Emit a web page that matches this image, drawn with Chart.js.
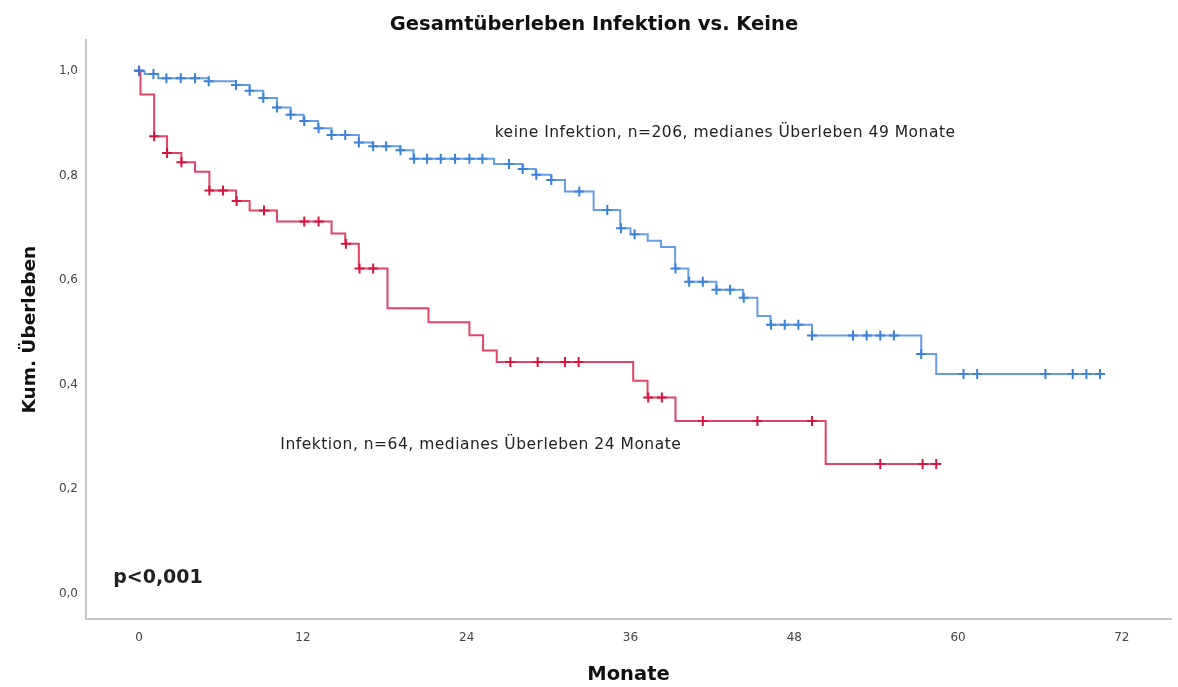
<!DOCTYPE html>
<html>
<head>
<meta charset="utf-8">
<script src="https://cdn.jsdelivr.net/npm/chart.js@4/dist/chart.umd.min.js"></script>
<style>
  body { margin: 0; background: #fff; }
  canvas { display: block; }
</style>
</head>
<body>
<canvas id="km-chart" width="1178" height="687"></canvas>
<script>
// Kaplan-Meier steps: time of event (months) -> survival after it
const noneTimes = [0, 0.4, 1.4, 5.1, 7.1, 8.1, 9.1, 10.1, 11.1, 12.05, 13.1, 14.1, 16.1, 17.1, 19.1, 20.1,
  26.0, 28.1, 29.06, 30.2, 31.2, 33.3, 35.25, 36.0, 37.26, 38.24, 39.27, 40.24, 42.3, 44.25, 45.3,
  46.26, 49.3, 57.3, 58.4, 70.75];
const noneSurv = [1.0, 0.994, 0.986, 0.980, 0.973, 0.962, 0.948, 0.930, 0.916, 0.904, 0.890, 0.8775, 0.863, 0.856, 0.848, 0.832,
  0.822, 0.812, 0.801, 0.791, 0.769, 0.734, 0.699, 0.6875, 0.675, 0.663, 0.622, 0.5965, 0.581, 0.566, 0.531,
  0.514, 0.4935, 0.4584, 0.42, 0.42];
const noneCensored = [0, 1.05, 2.0, 3.05, 4.1, 5.1, 7.1, 8.1, 9.1, 10.1, 11.1, 12.1, 13.15, 14.1, 15.1, 16.1, 17.15,
  18.1, 19.15, 20.15, 21.1, 22.1, 23.15, 24.2, 25.15, 27.1, 28.1, 29.1, 30.2, 32.25, 34.3, 35.3, 36.3, 39.3,
  40.3, 41.3, 42.3, 43.3, 44.3, 46.3, 47.3, 48.3, 49.3, 52.3, 53.3, 54.3, 55.3, 57.3, 60.4, 61.4, 66.4, 68.4,
  69.4, 70.4];

const infTimes = [0, 0.1, 1.1, 2.05, 3.1, 4.1, 5.15, 7.1, 8.1, 10.1, 14.1, 15.1, 16.1, 18.2, 21.2, 24.2, 25.2,
  26.2, 36.2, 37.25, 39.3, 50.3, 58.7];
const infSurv = [1.0, 0.955, 0.875, 0.843, 0.825, 0.807, 0.771, 0.751, 0.733, 0.712, 0.689, 0.669, 0.622, 0.546,
  0.519, 0.494, 0.465, 0.443, 0.407, 0.375, 0.33, 0.248, 0.248];
const infCensored = [0, 1.1, 2.05, 3.1, 5.15, 6.15, 7.15, 9.15, 12.1, 13.15, 15.15, 16.15, 17.15, 27.2, 29.2,
  31.2, 32.2, 37.3, 38.3, 41.3, 45.3, 49.3, 54.3, 57.4, 58.4];

const xTicks = [0, 12, 24, 36, 48, 60, 72];
const yTicks = [0, 0.2, 0.4, 0.6, 0.8, 1.0];

const labels = [
  { text: 'keine Infektion, n=206, medianes Überleben 49 Monate', x: 26.05, y: 0.881, bold: false },
  { text: 'Infektion, n=64, medianes Überleben 24 Monate', x: 10.35, y: 0.284, bold: false },
  { text: 'p<0,001', x: -1.9, y: 0.03, bold: true },
];

const BLUE_LINE = 'rgba(62,134,222,0.8)';
const BLUE_MARK = '#3a7fd6';
const RED_LINE = 'rgba(214,22,66,0.8)';
const RED_MARK = '#d4143f';

const toPoints = (times, surv) => times.map((t, i) => ({ x: t, y: surv[i] }));

// censored cases sit on the curve at their time
const survAt = (times, surv, t) => {
  let s = surv[0];
  times.forEach((tt, i) => { if (tt <= t) s = surv[i]; });
  return s;
};
const censorPoints = (cens, times, surv) => cens.map(t => ({ x: t, y: survAt(times, surv, t) }));

const textPlugin = {
  id: 'kmText',
  afterDatasetsDraw(chart) {
    const { ctx, scales } = chart;
    ctx.save();
    ctx.fillStyle = '#222';
    ctx.textBaseline = 'middle';
    labels.forEach(l => {
      ctx.font = l.bold ? 'bold 19px "DejaVu Sans"' : '15.5px "DejaVu Sans"';
      ctx.letterSpacing = l.bold ? '0px' : '0.5px';
      ctx.fillText(l.text, scales.x.getPixelForValue(l.x), scales.y.getPixelForValue(l.y));
    });
    ctx.restore();
  }
};

const noPad = axis => { axis.paddingLeft = 0; axis.paddingRight = 0; axis.paddingTop = 0; axis.paddingBottom = 0; };

const ctx = document.getElementById('km-chart');
new Chart(ctx, {
  data: {
    datasets: [
      {
        type: 'line', data: toPoints(noneTimes, noneSurv), stepped: 'before',
        borderColor: BLUE_LINE, borderWidth: 2, pointRadius: 0, fill: false,
      },
      {
        type: 'scatter', data: censorPoints(noneCensored, noneTimes, noneSurv),
        pointStyle: 'cross', pointRadius: 5, borderWidth: 2, borderColor: BLUE_MARK, backgroundColor: BLUE_MARK,
      },
      {
        type: 'line', data: toPoints(infTimes, infSurv), stepped: 'before',
        borderColor: RED_LINE, borderWidth: 2, pointRadius: 0, fill: false,
      },
      {
        type: 'scatter', data: censorPoints(infCensored, infTimes, infSurv),
        pointStyle: 'cross', pointRadius: 5, borderWidth: 2, borderColor: RED_MARK, backgroundColor: RED_MARK,
      },
    ]
  },
  options: {
    responsive: false,
    animation: false,
    devicePixelRatio: 1,
    layout: { padding: { top: 0, left: 10, right: 0, bottom: 0 } },
    plugins: {
      legend: { display: false },
      tooltip: { enabled: false },
      title: {
        display: true,
        text: 'Gesamtüberleben Infektion vs. Keine',
        color: '#111',
        font: { family: 'DejaVu Sans', size: 19.5, weight: 'bold' },
        padding: { top: 13, bottom: 4 },
      },
    },
    scales: {
      x: {
        type: 'linear',
        min: -3.89, max: 75.6,
        afterBuildTicks: axis => { axis.ticks = xTicks.map(v => ({ value: v })); },
        afterFit: axis => { axis.height = 68; noPad(axis); },
        grid: { display: false, drawTicks: false },
        border: { display: true, color: '#c4c4c4', width: 2 },
        ticks: { color: '#444', padding: 12, font: { family: 'DejaVu Sans', size: 12 } },
        title: {
          display: true, text: 'Monate', color: '#111',
          font: { family: 'DejaVu Sans', size: 19.5, weight: 'bold' },
          padding: { top: 0, bottom: 0 },
        },
      },
      y: {
        type: 'linear',
        min: -0.0488, max: 1.0583,
        afterBuildTicks: axis => { axis.ticks = yTicks.map(v => ({ value: v })); },
        afterFit: axis => { axis.width = 76; noPad(axis); },
        grid: { display: false, drawTicks: false },
        border: { display: true, color: '#c4c4c4', width: 2 },
        ticks: {
          color: '#444', padding: 8, font: { family: 'DejaVu Sans', size: 12 },
          callback: v => v.toFixed(1).replace('.', ','),
        },
        title: {
          display: true, text: 'Kum. Überleben', color: '#111',
          font: { family: 'DejaVu Sans', size: 18.5, weight: 'bold' },
          padding: { top: 9, bottom: 0 },
        },
      },
    },
  },
  plugins: [textPlugin],
});
</script>
</body>
</html>
